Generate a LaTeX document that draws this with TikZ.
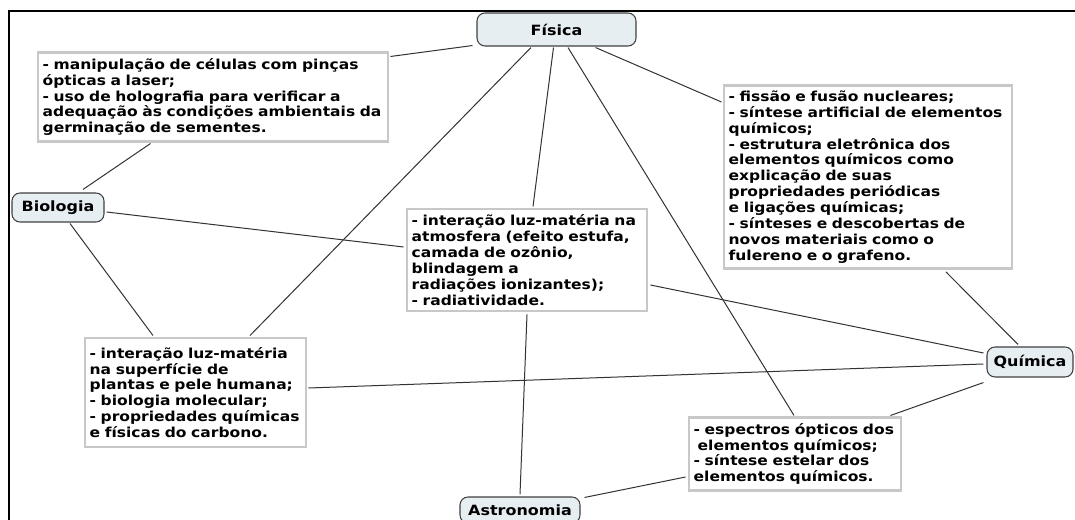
\documentclass[tikz,border=0pt]{standalone}
\usepackage{fontspec}
\setmainfont{DejaVu Sans}[FakeStretch=1.13]
\definecolor{topicfill}{HTML}{E6EEF2}
\definecolor{boxline}{HTML}{C8C8C8}
\definecolor{linkc}{HTML}{333333}
\begin{document}
\begin{tikzpicture}[x=0.75pt,y=-0.75pt,
  every node/.style={font=\bfseries\fontsize{10.3pt}{11.9pt}\selectfont},
  topic/.style={draw=black!75,fill=topicfill,rounded corners=6pt,line width=0.8pt,inner sep=0pt,font=\bfseries\fontsize{10.6pt}{12pt}\selectfont},
  infobox/.style={draw=boxline,fill=white,line width=2.2pt,inner xsep=3.5pt,inner ysep=4pt,align=left,anchor=center},
  link/.style={draw=linkc,line width=0.75pt}]
\clip (0,0) rectangle (1075,520);
\fill[white] (0,0) rectangle (1075,520);
\draw[line width=1.5pt] (9,11) rectangle (1085,530);
% topic nodes
\node[topic,minimum width=119.25pt,minimum height=24.75pt] (fis) at (556.5,29.5) {Física};
\node[topic,minimum width=69pt,minimum height=21.75pt] (bio) at (58,207.5) {Biologia};
\node[topic,minimum width=64.5pt,minimum height=22.5pt] (qui) at (1030,362) {Química};
\node[topic,minimum width=90pt,minimum height=19.5pt] (ast) at (520,510) {Astronomia};
% info boxes
\node[infobox,text width=255.5pt,minimum height=61.5pt] (box1) at (213,97) {\mbox{- manipulação de células com pinças}\\ópticas a laser;\\\mbox{- uso de holografia para verificar a}\\\mbox{adequação às condições ambientais da}\\germinação de sementes.};
\node[infobox,text width=173pt,minimum height=76.5pt] (boxC) at (527,260) {\mbox{- interação luz-matéria na}\\\mbox{atmosfera (efeito estufa,}\\camada de ozônio,\\blindagem a\\radiações ionizantes);\\- radiatividade.};
\node[infobox,text width=209pt,minimum height=132pt] (boxR) at (868,177) {- fissão e fusão nucleares;\\\mbox{- síntese artificial de elementos}\\químicos;\\- estrutura eletrônica dos\\elementos químicos como\\explicação de suas\\propriedades periódicas\\e ligações químicas;\\\mbox{- sínteses e descobertas de}\\novos materiais como o\\fulereno e o grafeno.};
\node[infobox,text width=158.75pt,minimum height=81.75pt] (boxLL) at (195.5,392.5) {\mbox{- interação luz-matéria}\\na superfície de\\\mbox{plantas e pele humana;}\\- biologia molecular;\\\mbox{- propriedades químicas}\\e físicas do carbono.};
\node[infobox,text width=152pt,minimum height=52.5pt] (boxS) at (795,454) {\mbox{- espectros ópticos dos}\\\hspace*{3pt}elementos químicos;\\- síntese estelar dos\\elementos químicos.};
% connectors
\draw[link] ([shift={(-4,-1)}]fis.south west) -- ([shift={(1,5)}]box1.north east);
\draw[link] ([shift={(-25.5,1)}]fis.south) -- ([shift={(54.5,-1)}]boxLL.north);
\draw[link] ([shift={(-3,1)}]fis.south) -- ([shift={(6,-1)}]boxC.north);
\draw[link] ([shift={(11.5,1)}]fis.south) -- ([shift={(-1,-1)}]boxS.north);
\draw[link] ([shift={(-41,1)}]fis.south east) -- ([shift={(-1,18)}]boxR.north west);
\draw[link] ([shift={(114,1)}]box1.south west) -- ([shift={(25,-3)}]bio.north);
\draw[link] ([shift={(2,4.5)}]bio.east) -- ([shift={(-2,-13)}]boxC.west);
\draw[link] ([shift={(12,1)}]bio.south) -- ([shift={(-42.5,-1)}]boxLL.north);
\draw[link] ([shift={(2,25)}]boxC.east) -- ([shift={(-3,-9)}]qui.west);
\draw[link] ([shift={(1,-4.5)}]boxLL.east) -- ([shift={(-3,2)}]qui.west);
\draw[link] ([shift={(78,2)}]boxR.south) -- ([shift={(-12,-2)}]qui.north);
\draw[link] ([shift={(-3,5)}]qui.south west) -- ([shift={(-12,-1)}]boxS.north east);
\draw[link] ([shift={(0,2)}]boxC.south) -- ([shift={(0,-2)}]ast.north);
\draw[link] ([shift={(-2,23)}]boxS.west) -- ([shift={(4,1)}]ast.north east);
\end{tikzpicture}
\end{document}
